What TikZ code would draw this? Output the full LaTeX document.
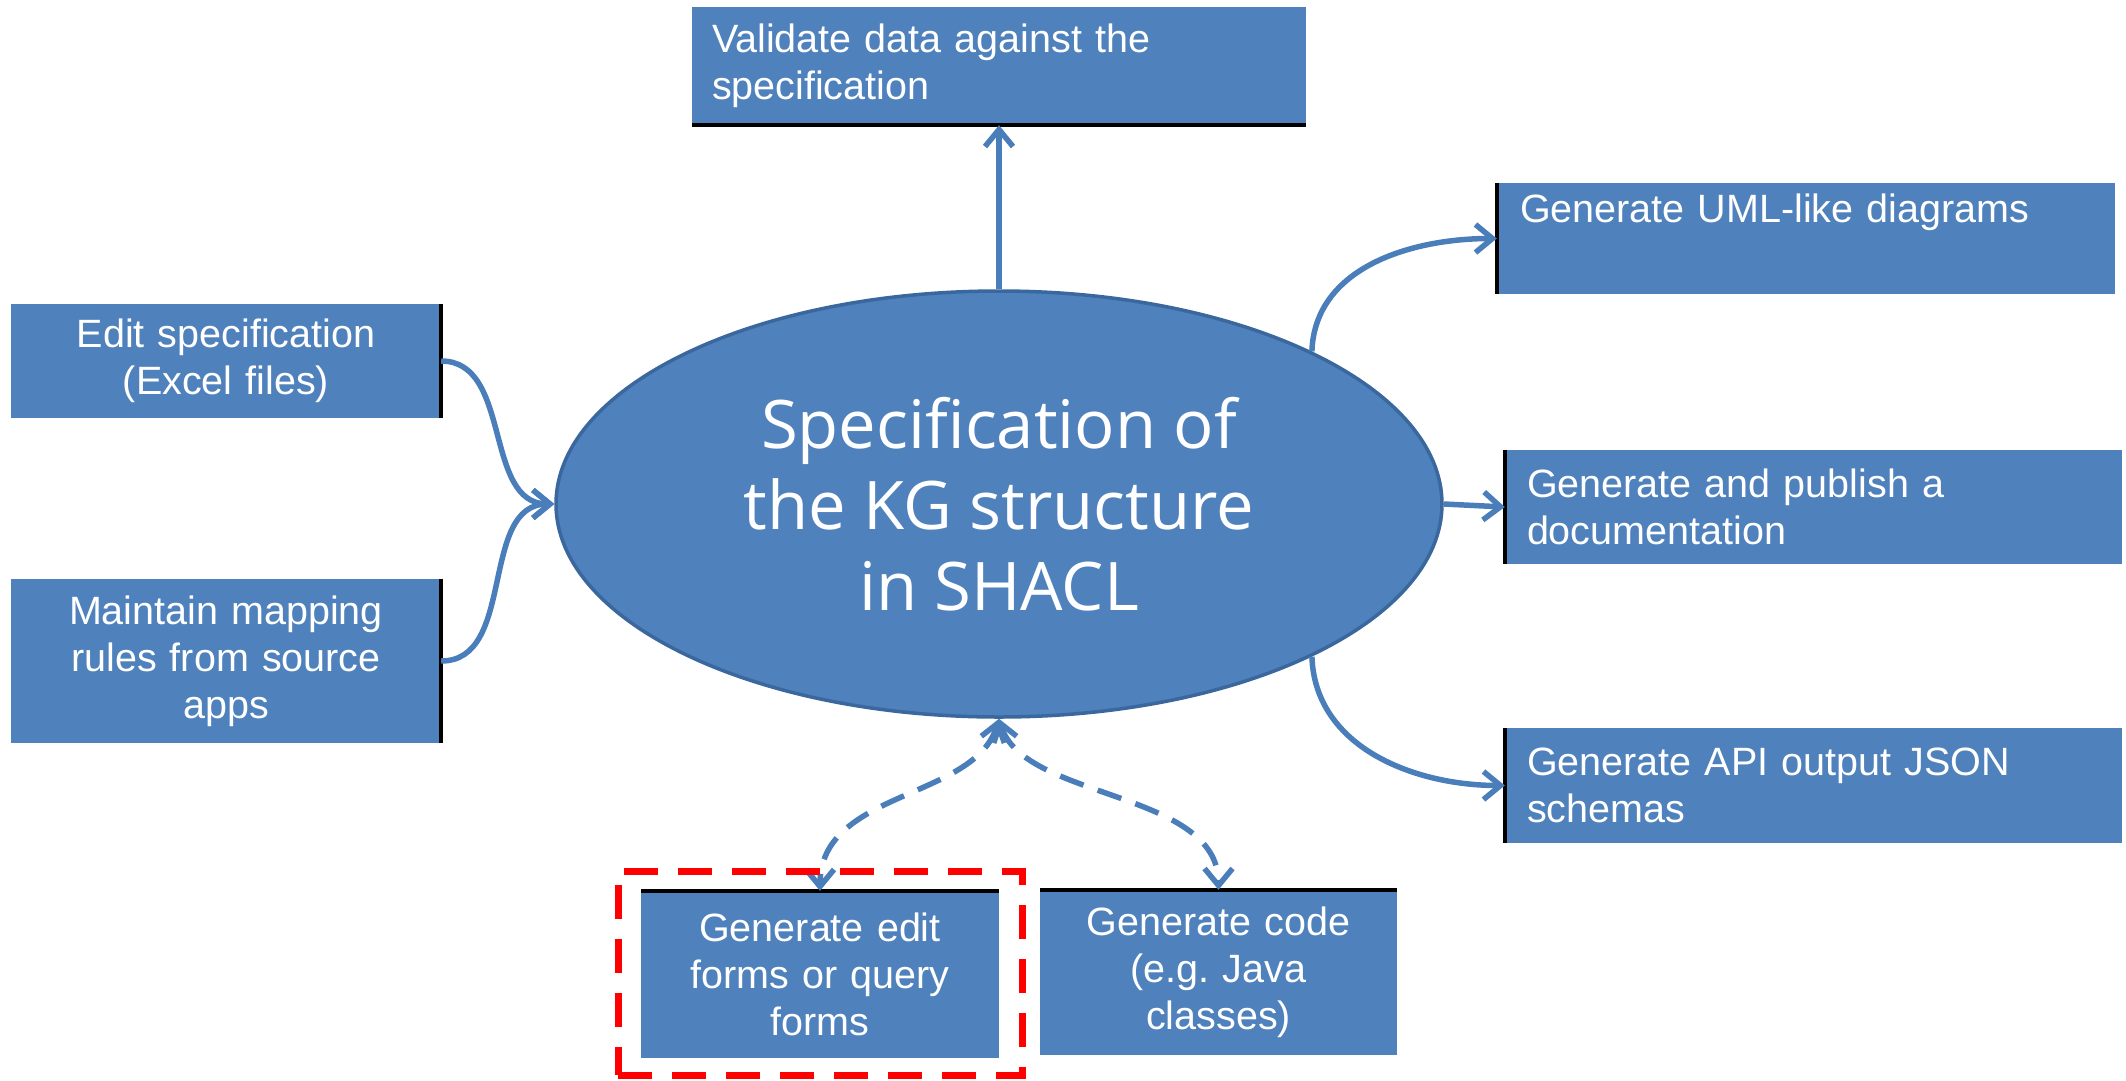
\documentclass[tikz,border=0pt]{standalone}
\usepackage{fontspec}
\setmainfont{Liberation Sans}
\newfontfamily\ellfont{Open Sans}
\usetikzlibrary{shapes.geometric,arrows.meta}
\definecolor{boxblue}{HTML}{4F81BD}
\definecolor{ellborder}{HTML}{3A679E}
\definecolor{arrowblue}{HTML}{4A7EBB}
\definecolor{hlred}{HTML}{FF0000}
\frenchspacing
\begin{document}
\begin{tikzpicture}[x=1pt,y=-1pt,
  box/.style={rectangle, fill=boxblue, text=white, inner sep=0pt,
    font=\fontsize{39.5}{47}\selectfont},
  cbox/.style={box, align=center},
  lbox/.style={box, align=left},
  edgeline/.style={black, line width=3.5pt},
  conn/.style={arrowblue, line width=5.5pt,
    -{Straight Barb[length=17pt,width=28pt]}},
  dconn/.style={arrowblue, line width=5.5pt, dash pattern=on 25pt off 15pt,
    {Straight Barb[length=17pt,width=24pt]}-{Straight Barb[length=17pt,width=28pt]}},
  hlbox/.style={draw=hlred, line width=7pt, dash pattern=on 34pt off 20pt,
    rectangle, inner sep=0pt}
]
\useasboundingbox (0,0) rectangle (2126,1080);

% central ellipse
\node[ellipse, fill=boxblue, draw=ellborder, line width=3.5pt, inner sep=0pt,
  minimum width=886pt, minimum height=426pt, text=white, align=center,
  font=\ellfont\fontsize{67}{81}\selectfont] (ell) at (999,504)
  {Specification of\\the KG structure\\in SHACL};

% boxes
\node[lbox, minimum width=614pt, minimum height=118pt, text width=574pt] (val) at (999,66)
  {Validate data against the\\specification};
\node[cbox, minimum width=430pt, minimum height=114pt, text width=410pt] (edit) at (226,361)
  {Edit specification\\(Excel files)};
\node[cbox, minimum width=430pt, minimum height=164pt, text width=410pt] (map) at (226,661)
  {Maintain mapping\\rules from source\\apps};
\node[lbox, minimum width=618pt, minimum height=111pt, text width=572pt] (uml) at (1806,238.5)
  {Generate UML-like diagrams\\\strut};
\node[lbox, minimum width=617pt, minimum height=114pt, text width=573pt] (doc) at (1813.5,507)
  {Generate and publish a\\documentation};
\node[lbox, minimum width=617pt, minimum height=115pt, text width=573pt] (api) at (1813.5,785.5)
  {Generate API output JSON\\schemas};
\node[cbox, minimum width=358pt, minimum height=167pt, text width=338pt] (forms) at (820,974.5)
  {Generate edit\\forms or query\\forms};
\node[cbox, minimum width=357pt, minimum height=165pt, text width=337pt] (code) at (1218.5,972.5)
  {Generate code\\(e.g.\ Java\\classes)};

% black edges
\draw[edgeline] (val.south west) -- (val.south east);
\draw[edgeline] (edit.north east) -- (edit.south east);
\draw[edgeline] (map.north east) -- (map.south east);
\draw[edgeline] (uml.north west) -- (uml.south west);
\draw[edgeline] (doc.north west) -- (doc.south west);
\draw[edgeline] (api.north west) -- (api.south west);
\draw[edgeline] (forms.north west) -- (forms.north east);
\draw[edgeline] (code.north west) -- (code.north east);

% connectors
\draw[conn] (ell.north) -- (val.south);
\draw[conn] (edit.east) to[out=0,in=180] (ell.west);
\draw[conn] (map.east) to[out=0,in=180] (ell.west);
\draw[conn] (ell.26) to[out=88,in=180] (uml.west);
\draw[conn] (ell.east) -- (doc.west);
\draw[conn] (ell.-26) to[out=-88,in=180] (api.west);
\draw[dconn] (ell.south) .. controls (975,800) and (820,790) .. (forms.north);
\draw[dconn] (ell.south) .. controls (1023,800) and (1218.5,790) .. (code.north);

% highlight
\node[hlbox, minimum width=404pt, minimum height=204pt] (hl) at (820,973) {};
\end{tikzpicture}
\end{document}
